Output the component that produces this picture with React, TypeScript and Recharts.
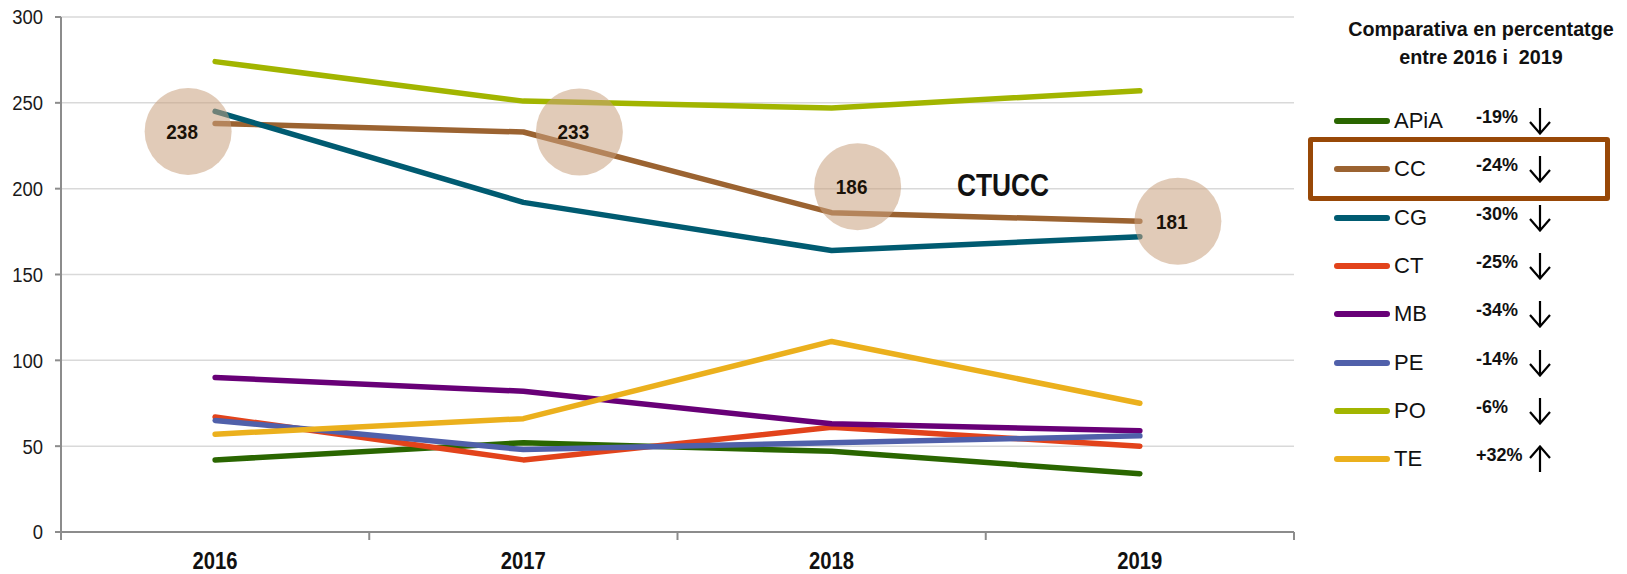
import React from 'react';
import { LineChart, Line, XAxis, YAxis, CartesianGrid } from 'recharts';

// categories and ticks
const years = ['2016', '2017', '2018', '2019'];
const yTicks = [0, 50, 100, 150, 200, 250, 300];

// series values
const APiA = [42, 52, 47, 34];
const CC = [238, 233, 186, 181];
const CG = [245, 192, 164, 172];
const CT = [67, 42, 61, 50];
const MB = [90, 82, 63, 59];
const PE = [65, 48, 52, 56];
const PO = [274, 251, 247, 257];
const TE = [57, 66, 111, 75];

const seriesNames = ['APiA', 'CC', 'CG', 'CT', 'MB', 'PE', 'PO', 'TE'];
const changeLabels = ['-19%', '-24%', '-30%', '-25%', '-34%', '-14%', '-6%', '+32%'];
const changeUp = [false, false, false, false, false, false, false, true];

const colors: Record<string, string> = {
  APiA: '#2a6600',
  CC: '#9b6331',
  CG: '#005b71',
  CT: '#e2431b',
  MB: '#680077',
  PE: '#5060aa',
  PO: '#a2b500',
  TE: '#ebb01d',
};

const SANS = "'Liberation Sans', Arial, sans-serif";

// where the CC bubbles sit relative to their points (they were hand placed)
const bubbleNudge: [number, number][] = [[-27, 8], [56, 0], [26, -26], [38, 0]];

const values: Record<string, number[]> = { APiA, CC, CG, CT, MB, PE, PO, TE };

const data = years.map((year, i) => {
  const row: Record<string, number | string> = { year, pos: i + 0.5 };
  seriesNames.forEach((n) => {
    row[n] = values[n][i];
  });
  return row;
});

const xTicks = [0, 0.5, 1, 1.5, 2, 2.5, 3, 3.5, 4];

// no narrow face is installed, so Liberation Sans gets squeezed sideways
const NarrowText = ({
  x,
  y,
  anchor = 'middle',
  size,
  squeeze = 0.88,
  bold = false,
  fill = '#111',
  children,
}: {
  x: number;
  y: number;
  anchor?: 'start' | 'middle' | 'end';
  size: number;
  squeeze?: number;
  bold?: boolean;
  fill?: string;
  children: React.ReactNode;
}) => (
  <text
    transform={`translate(${x},${y}) scale(${squeeze},1)`}
    textAnchor={anchor}
    dy="0.35em"
    fontFamily={SANS}
    fontWeight={bold ? 'bold' : 'normal'}
    fontSize={size}
    fill={fill}
  >
    {children}
  </text>
);

// integer ticks = category boundaries (tick marks), half ticks = year labels
const XTick = (props: any) => {
  const { x, y, payload } = props;
  const v = payload.value as number;
  if (Number.isInteger(v)) {
    return <line x1={x} x2={x} y1={y} y2={y + 8} stroke="#8c8c8c" strokeWidth={2} />;
  }
  return (
    <NarrowText x={x} y={y + 29} size={23} squeeze={0.88} bold>
      {years[Math.floor(v)]}
    </NarrowText>
  );
};

const YTick = (props: any) => {
  const { x, y, payload } = props;
  return (
    <NarrowText x={x} y={y} anchor="end" size={21} squeeze={0.88} fill="#1a1a1a">
      {payload.value}
    </NarrowText>
  );
};

const renderBubble = (p: any) => {
  const { cx, cy, index, value } = p;
  const [dx, dy] = bubbleNudge[index] || [0, 0];
  return (
    <g key={`bubble-${index}`}>
      <circle cx={cx + dx} cy={cy + dy} r={43.5} fill="#c9a07e" fillOpacity={0.55} />
      <NarrowText x={cx + dx - 6} y={cy + dy} size={21} squeeze={0.9} bold fill="#1a1208">
        {value}
      </NarrowText>
    </g>
  );
};

const Arrow = ({ up }: { up: boolean }) => (
  <svg width={22} height={28} viewBox="0 0 22 28" style={{ display: 'block' }}>
    {up ? (
      <g stroke="#000" strokeWidth={2.2} fill="none">
        <line x1={11} y1={27} x2={11} y2={1.5} />
        <polyline points="1,13 11,1.5 21,13" />
      </g>
    ) : (
      <g stroke="#000" strokeWidth={2.2} fill="none">
        <line x1={11} y1={1} x2={11} y2={26.5} />
        <polyline points="1,15 11,26.5 21,15" />
      </g>
    )}
  </svg>
);

const squeezeStyle = (s: number): React.CSSProperties => ({
  transform: `scaleX(${s})`,
  transformOrigin: 'center',
});

export default function App() {
  return (
    <div
      style={{
        position: 'absolute',
        left: 0,
        top: 0,
        width: 1627,
        height: 574,
        background: '#fff',
        overflow: 'hidden',
      }}
    >
      <LineChart
        width={1627}
        height={574}
        data={data}
        margin={{ top: 17, right: 333, bottom: 0, left: 0 }}
      >
        <CartesianGrid vertical={false} stroke="#d9d9d9" strokeWidth={1.5} />
        <XAxis
          dataKey="pos"
          type="number"
          domain={[0, 4]}
          ticks={xTicks}
          interval={0}
          height={42}
          tickSize={0}
          tickMargin={0}
          tickLine={false}
          axisLine={{ stroke: '#8c8c8c', strokeWidth: 2 }}
          tick={<XTick />}
        />
        <YAxis
          type="number"
          domain={[0, 300]}
          ticks={yTicks}
          interval={0}
          width={61}
          tickSize={6}
          tickMargin={12}
          axisLine={{ stroke: '#8c8c8c', strokeWidth: 2 }}
          tickLine={{ stroke: '#8c8c8c', strokeWidth: 2 }}
          tick={<YTick />}
        />
        {seriesNames.map((n) => (
          <Line
            key={n}
            type="linear"
            dataKey={n}
            stroke={colors[n]}
            strokeWidth={5.5}
            strokeLinecap="round"
            strokeLinejoin="round"
            dot={false}
            activeDot={false}
            isAnimationActive={false}
          />
        ))}
        {/* value bubbles for CC, drawn over every line */}
        <Line
          dataKey="CC"
          stroke="none"
          dot={renderBubble}
          activeDot={false}
          legendType="none"
          isAnimationActive={false}
        />
      </LineChart>

      <div
        style={{
          position: 'absolute',
          left: 943,
          top: 167,
          width: 120,
          textAlign: 'center',
          fontFamily: SANS,
          fontWeight: 'bold',
          fontSize: 31,
          lineHeight: '38px',
          color: '#111',
          ...squeezeStyle(0.85),
        }}
      >
        CTUCC
      </div>

      {/* right side legend */}
      <div
        style={{
          position: 'absolute',
          left: 1311,
          top: 15,
          width: 340,
          textAlign: 'center',
          fontFamily: SANS,
          fontWeight: 'bold',
          fontSize: 21,
          lineHeight: '28px',
          color: '#111',
          ...squeezeStyle(0.94),
        }}
      >
        Comparativa en percentatge
        <br />
        entre 2016 i&nbsp; 2019
      </div>

      {seriesNames.map((n, i) => {
        const cy = 121 + i * 48.3;
        return (
          <React.Fragment key={n}>
            <div
              style={{
                position: 'absolute',
                left: 1334,
                top: cy - 3,
                width: 56,
                height: 6,
                borderRadius: 3,
                background: colors[n],
              }}
            />
            <div
              style={{
                position: 'absolute',
                left: 1394,
                top: cy - 14,
                height: 28,
                lineHeight: '28px',
                fontFamily: SANS,
                fontSize: 22,
                color: '#111',
              }}
            >
              {n}
            </div>
            <div
              style={{
                position: 'absolute',
                left: 1476,
                top: cy - 16,
                height: 24,
                lineHeight: '24px',
                fontFamily: SANS,
                fontWeight: 'bold',
                fontSize: 18,
                color: '#111',
              }}
            >
              {changeLabels[i]}
            </div>
            <div style={{ position: 'absolute', left: 1529, top: cy - 14 }}>
              <Arrow up={changeUp[i]} />
            </div>
          </React.Fragment>
        );
      })}

      <div
        style={{
          position: 'absolute',
          left: 1308,
          top: 137,
          width: 302,
          height: 64,
          boxSizing: 'border-box',
          border: '5px solid #984807',
          borderRadius: 3,
        }}
      />
    </div>
  );
}
